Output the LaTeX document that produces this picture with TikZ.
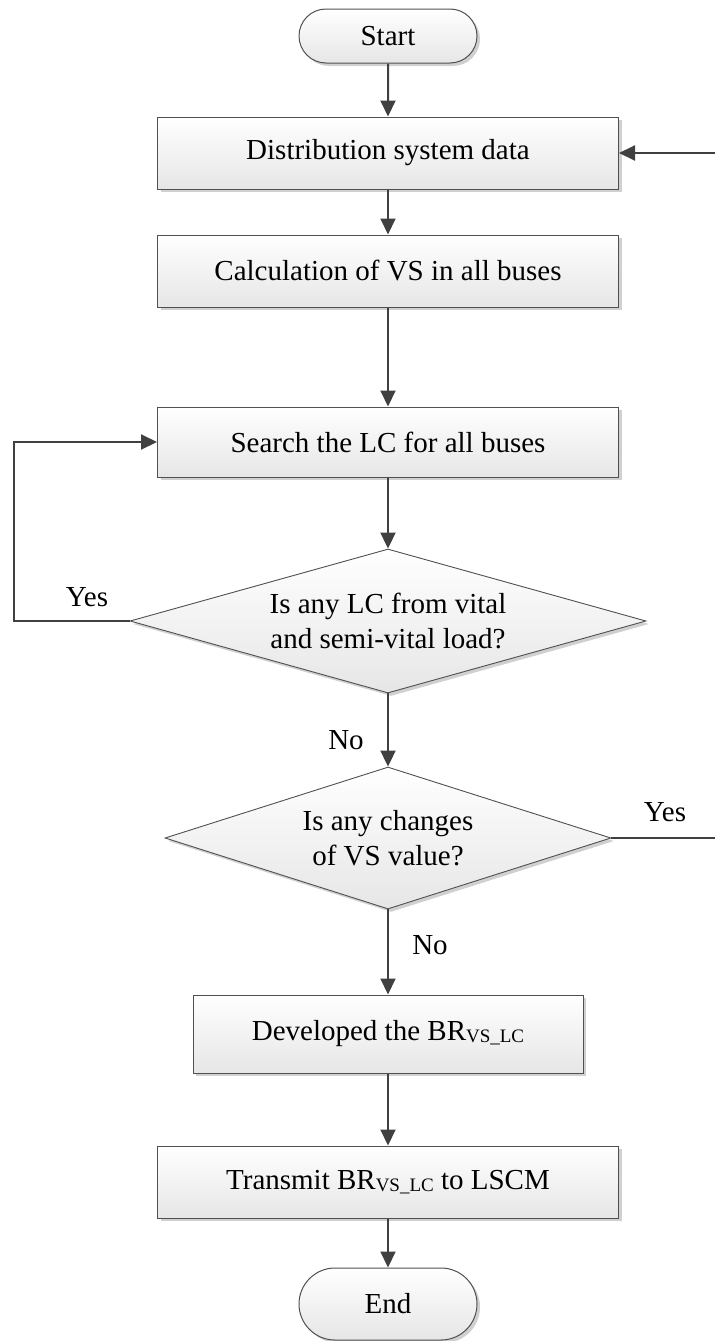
\documentclass[tikz,border=0pt]{standalone}
\usepackage{fontspec}
\setmainfont{Liberation Serif}
\usetikzlibrary{arrows.meta,shapes.geometric,shapes.misc,shadows}

\definecolor{edge}{HTML}{505050}
\definecolor{wire}{HTML}{404040}
\definecolor{shade}{HTML}{E6E6E6}
\definecolor{shadowgray}{HTML}{D0D0D0}

\newcommand{\subvs}{{\fontsize{19}{19}\selectfont\raisebox{-1.5pt}{VS\_LC}}}

\tikzset{
  txt/.style={font=\fontsize{29}{35}\selectfont, text=black, inner sep=0pt},
  boxed/.style={draw=edge, line width=1pt, shading=axis, top color=white,
    bottom color=shade, inner sep=0pt,
    drop shadow={shadow xshift=3pt, shadow yshift=-3pt, fill=shadowgray, opacity=1}},
  procbox/.style={boxed, rectangle, txt, minimum height=72pt},
  terminal/.style={boxed, rounded rectangle, txt, minimum width=178pt},
  decision/.style={boxed, diamond, line width=0.9pt},
  arr/.style={draw=wire, line width=2pt, -{Triangle[width=15pt,length=16pt]}},
  wireline/.style={draw=wire, line width=2pt},
}

\begin{document}
\begin{tikzpicture}[x=1pt, y=-1pt]
  \useasboundingbox (0,0) rectangle (715,1341);

  % flowchart blocks
  \node[terminal, minimum height=54pt] (start) at (388,36) {Start};
  \node[procbox, minimum width=461pt] (data) at (388,153) {Distribution system data};
  \node[procbox, minimum width=461pt] (calc) at (388,271) {Calculation of VS in all buses};
  \node[procbox, minimum width=461pt, minimum height=70pt] (search) at (388,442) {Search the LC for all buses};

  \node[decision, minimum width=516pt, minimum height=144pt] (vital) at (388,621) {};
  \node[txt, align=center] (vitaltxt) at (vital) {Is any LC from vital\\and semi-vital load?};

  \node[decision, minimum width=446pt, minimum height=142pt] (change) at (388,838) {};
  \node[txt, align=center] (changetxt) at (change) {Is any changes\\of VS value?};

  \node[procbox, minimum width=390pt, minimum height=78pt] (dev) at (388,1034) {Developed the BR\subvs};
  \node[procbox, minimum width=461pt] (send) at (388,1182) {Transmit BR\subvs{} to LSCM};
  \node[terminal, minimum height=72pt] (stop) at (388,1304) {End};

  % free ends of the side connectors
  \coordinate (feedin) at (715,153);
  \coordinate (loopL) at (14,621);
  \coordinate (loopT) at (14,442);
  \coordinate (feedout) at (715,838);

  % connectors
  \draw[arr] (start) -- (data);
  \draw[arr] (feedin) -- (data.east);
  \draw[arr] (data) -- (calc);
  \draw[arr] (calc) -- (search);
  \draw[arr] (search) -- (vital.north);
  \draw[arr] (vital.west) -- (loopL) -- (loopT) -- (search.west);
  \draw[arr] (vital.south) -- (change.north);
  \draw[wireline] (change.east) -- (feedout);
  \draw[arr] (change.south) -- (dev);
  \draw[arr] (dev) -- (send);
  \draw[arr] (send) -- (stop);

  % branch labels
  \node[txt] (yes1) at (87,597) {Yes};
  \node[txt] (no1) at (346,740) {No};
  \node[txt] (yes2) at (665,812) {Yes};
  \node[txt] (no2) at (430,945) {No};
\end{tikzpicture}
\end{document}
